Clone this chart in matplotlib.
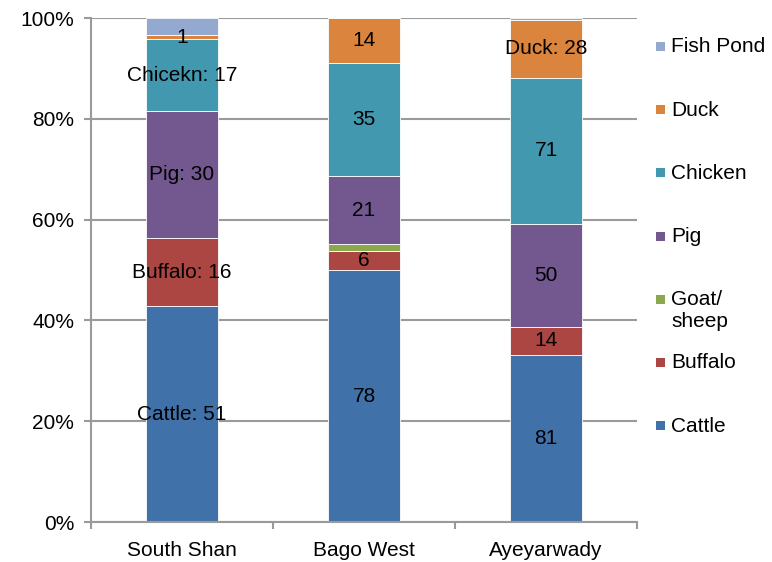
import numpy as np
import matplotlib
matplotlib.use("Agg")
import matplotlib.pyplot as plt
from matplotlib.patches import Rectangle
from matplotlib.ticker import FixedLocator, PercentFormatter

plt.rcParams['font.family'] = ['Liberation Sans', 'DejaVu Sans']

regions = ["South Shan", "Bago West", "Ayeyarwady"]
series = ["Cattle", "Buffalo", "Goat/\nsheep", "Pig", "Chicken", "Duck", "Fish Pond"]
cattle = [51, 78, 81]
buffalo = [16, 6, 14]
goat = [0, 2, 0]
pig = [30, 21, 50]
chicken = [17, 35, 71]
duck = [1, 14, 28]
fish_pond = [4, 0, 1]

colors = ["#4171A9", "#AB4642", "#8AA84E", "#72588F", "#4298AE", "#DB843D", "#93A9CF"]

# text shown on each segment (None = unlabelled)
labels = [
    ["Cattle: 51", "78", "81"],
    ["Buffalo: 16", "6", "14"],
    [None, None, None],
    ["Pig: 30", "21", "50"],
    ["Chicekn: 17", "35", "71"],
    ["1", "14", "Duck: 28"],
    [None, None, None],
]

data = np.array([cattle, buffalo, goat, pig, chicken, duck, fish_pond], dtype=float)
totals = data.sum(axis=0)
pct = data / totals * 100

W, H = 772, 562
fig = plt.figure(figsize=(W / 100, H / 100), dpi=100)
ax = fig.add_axes([91 / W, 1 - 522 / H, 546 / W, 504 / H])

FS = 15
x = np.arange(len(regions))
width = 0.395
bottom = np.zeros(len(regions))
for i, name in enumerate(series):
    ax.bar(x, pct[i], width, bottom=bottom, color=colors[i],
           edgecolor="white", linewidth=0.6, zorder=2, label=name)
    for j in range(len(regions)):
        lab = labels[i][j]
        if lab is not None:
            ax.text(x[j], bottom[j] + pct[i][j] / 2, lab, ha="center", va="center",
                    fontsize=FS, color="black", zorder=4)
    bottom += pct[i]

ax.set_xlim(-0.5, 2.5)
ax.set_ylim(0, 100)
ax.yaxis.set_major_locator(FixedLocator([0, 20, 40, 60, 80, 100]))
ax.yaxis.set_major_formatter(PercentFormatter(decimals=0))
ax.set_xticks(x)
ax.set_xticklabels(regions)
ax.xaxis.set_minor_locator(FixedLocator([-0.5, 0.5, 1.5, 2.5]))

ax.grid(axis="y", color="#9A9A9A", linewidth=1.5, zorder=0)
ax.set_axisbelow(True)
for side in ["top", "right"]:
    ax.spines[side].set_visible(False)
for side in ["left", "bottom"]:
    ax.spines[side].set_color("#9A9A9A")
    ax.spines[side].set_linewidth(1.5)

ax.tick_params(axis="y", which="major", direction="out", length=5, width=1.5,
               color="#9A9A9A", labelsize=FS, pad=7)
ax.tick_params(axis="x", which="major", length=0, labelsize=FS, pad=14)
ax.tick_params(axis="x", which="minor", direction="out", length=5, width=1.5,
               color="#9A9A9A")

# legend: evenly spaced slots, top series first, text top-aligned to its swatch
slot_top, slot_step = 46.5, 63.2
sq = 9
for k, i in enumerate(range(len(series) - 1, -1, -1)):
    yc = slot_top + k * slot_step
    fig.patches.append(Rectangle((656 / W, 1 - (yc + sq / 2) / H), sq / W, sq / H,
                                 transform=fig.transFigure, facecolor=colors[i],
                                 edgecolor="none"))
    fig.text(671 / W, 1 - (yc - 9) / H, series[i], ha="left", va="top",
             fontsize=FS, linespacing=1.2)

fig.savefig("out.png", dpi=100)
